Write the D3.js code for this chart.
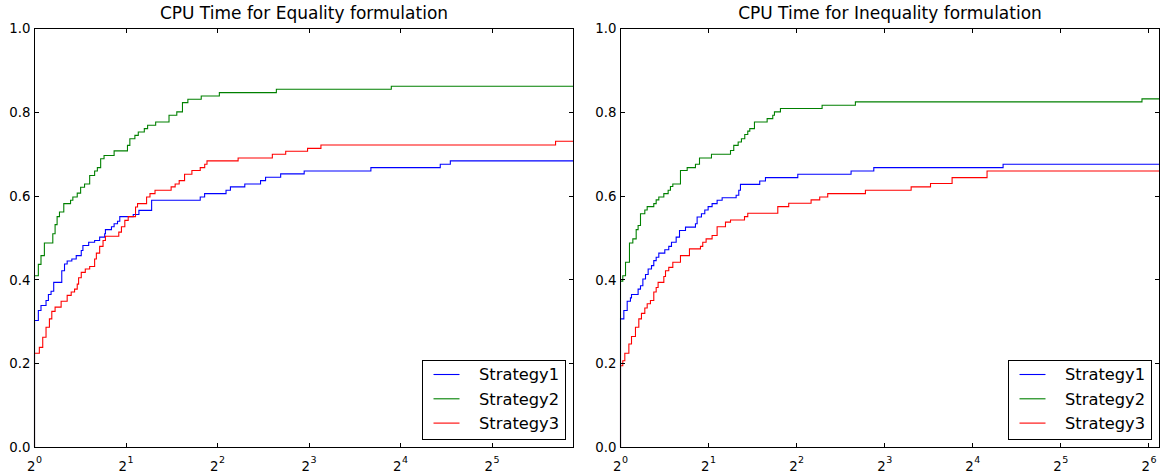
<!DOCTYPE html>
<html><head><meta charset="utf-8">
<script src="https://cdn.jsdelivr.net/npm/d3@7"></script>
<style>
body{margin:0;background:#fff}
svg{display:block}
text{font-family:"DejaVu Sans","Bitstream Vera Sans",sans-serif;fill:#000}
</style>
</head><body>
<svg id="chart" width="1161" height="473"></svg>
<script>
// ---- data (x = log2 of performance ratio tau, y = fraction of problems) ----
const titles = ["CPU Time for Equality formulation", "CPU Time for Inequality formulation"];
const seriesNames = ["Strategy1", "Strategy2", "Strategy3"];
const seriesColors = ["#0000ff", "#008000", "#ff0000"];
const yTickValues = [0, 0.2, 0.4, 0.6, 0.8, 1.0];
const xTickExpEq = [0, 1, 2, 3, 4, 5];
const xTickExpIneq = [0, 1, 2, 3, 4, 5, 6];
const xMaxEq = 5.89;
const xMaxIneq = 6.12;

const eqS1 = [[0,0],[0,0.303],[0.042,0.327],[0.071,0.339],[0.126,0.351],[0.152,0.365],[0.181,0.373],[0.21,0.394],[0.298,0.422],[0.328,0.438],[0.357,0.445],[0.408,0.450],[0.456,0.458],[0.511,0.470],[0.529,0.482],[0.592,0.490],[0.657,0.494],[0.712,0.502],[0.767,0.510],[0.775,0.520],[0.841,0.527],[0.87,0.534],[0.907,0.540],[0.932,0.551],[1.079,0.556],[1.141,0.566],[1.28,0.590],[1.811,0.598],[1.859,0.606],[2.093,0.614],[2.141,0.622],[2.298,0.629],[2.47,0.637],[2.525,0.645],[2.69,0.653],[2.947,0.660],[3.676,0.668],[4.434,0.676],[4.544,0.684],[5.89,0.684]];
const eqS2 = [[0,0],[0,0.41],[0.042,0.437],[0.071,0.458],[0.108,0.488],[0.2,0.51],[0.225,0.532],[0.247,0.551],[0.273,0.562],[0.32,0.582],[0.394,0.59],[0.419,0.598],[0.467,0.607],[0.504,0.621],[0.547,0.629],[0.603,0.649],[0.657,0.66],[0.687,0.668],[0.723,0.689],[0.76,0.697],[0.87,0.708],[1.016,0.721],[1.042,0.737],[1.097,0.745],[1.134,0.753],[1.2,0.761],[1.236,0.769],[1.324,0.777],[1.47,0.793],[1.555,0.801],[1.617,0.823],[1.676,0.831],[1.822,0.839],[2.02,0.847],[2.643,0.855],[3.899,0.862],[5.89,0.862]];
const eqS3 = [[0,0],[0,0.225],[0.053,0.239],[0.09,0.263],[0.126,0.287],[0.163,0.307],[0.189,0.325],[0.225,0.335],[0.291,0.349],[0.357,0.363],[0.401,0.371],[0.438,0.378],[0.467,0.39],[0.482,0.405],[0.511,0.418],[0.555,0.426],[0.603,0.432],[0.657,0.45],[0.676,0.464],[0.712,0.48],[0.749,0.494],[0.775,0.504],[0.921,0.514],[0.95,0.527],[0.987,0.542],[1.024,0.551],[1.104,0.574],[1.126,0.582],[1.225,0.598],[1.262,0.606],[1.317,0.614],[1.493,0.622],[1.537,0.629],[1.581,0.637],[1.64,0.652],[1.72,0.661],[1.811,0.668],[1.86,0.676],[1.885,0.684],[2.225,0.691],[2.599,0.7],[2.745,0.707],[2.984,0.714],[3.13,0.722],[5.694,0.731],[5.89,0.731]];

const ineqS1 = [[0,0],[0,0.307],[0.038,0.327],[0.076,0.349],[0.113,0.357],[0.125,0.365],[0.2,0.378],[0.227,0.386],[0.254,0.402],[0.284,0.413],[0.314,0.426],[0.352,0.434],[0.378,0.446],[0.405,0.454],[0.435,0.464],[0.503,0.472],[0.548,0.48],[0.579,0.49],[0.632,0.502],[0.67,0.518],[0.738,0.526],[0.851,0.534],[0.87,0.55],[0.919,0.558],[0.957,0.567],[0.995,0.575],[1.04,0.582],[1.097,0.59],[1.154,0.596],[1.313,0.602],[1.343,0.614],[1.362,0.628],[1.581,0.636],[1.646,0.644],[2.013,0.652],[2.618,0.66],[2.876,0.668],[4.344,0.676],[6.12,0.676]];
const ineqS2 = [[0,0],[0,0.397],[0.026,0.41],[0.057,0.442],[0.102,0.488],[0.14,0.498],[0.178,0.52],[0.2,0.53],[0.227,0.558],[0.276,0.567],[0.303,0.575],[0.378,0.582],[0.405,0.591],[0.435,0.598],[0.492,0.606],[0.541,0.614],[0.567,0.623],[0.594,0.629],[0.681,0.661],[0.757,0.668],[0.851,0.676],[0.897,0.691],[1.033,0.7],[1.249,0.709],[1.286,0.721],[1.336,0.729],[1.373,0.737],[1.411,0.747],[1.445,0.755],[1.468,0.761],[1.521,0.777],[1.665,0.785],[1.729,0.793],[1.748,0.801],[1.816,0.809],[2.289,0.817],[2.667,0.825],[5.921,0.832],[6.12,0.832]];
const ineqS3 = [[0,0],[0,0.195],[0.026,0.207],[0.049,0.225],[0.095,0.247],[0.125,0.265],[0.17,0.287],[0.208,0.307],[0.238,0.32],[0.276,0.333],[0.303,0.343],[0.34,0.351],[0.378,0.371],[0.405,0.382],[0.427,0.394],[0.492,0.408],[0.511,0.422],[0.548,0.43],[0.594,0.442],[0.681,0.458],[0.783,0.474],[0.908,0.48],[0.934,0.49],[0.972,0.498],[1.04,0.506],[1.097,0.527],[1.192,0.538],[1.249,0.543],[1.408,0.551],[1.445,0.559],[1.786,0.575],[1.91,0.583],[2.164,0.591],[2.262,0.598],[2.353,0.606],[2.781,0.614],[3.3,0.622],[3.52,0.63],[3.765,0.644],[4.162,0.66],[6.12,0.66]];

// ---- layout ----
const svg = d3.select("#chart");
const panels = [
  {title: titles[0], left: 34, right: 573, xMax: xMaxEq, xTicks: xTickExpEq, series: [eqS1, eqS2, eqS3]},
  {title: titles[1], left: 620, right: 1159, xMax: xMaxIneq, xTicks: xTickExpIneq, series: [ineqS1, ineqS2, ineqS3]}
];
const plotTop = 28, plotBottom = 447;
const tickLen = 4.5;

panels.forEach((p, pi) => {
  const w = p.right - p.left, h = plotBottom - plotTop;
  const g = svg.append("g").attr("transform", `translate(${p.left + 0.5},${plotTop + 0.5})`);
  const x = d3.scaleLinear().domain([0, p.xMax]).range([0, w]);
  const y = d3.scaleLinear().domain([0, 1]).range([h, 0]);

  const clipId = "clip" + pi;
  g.append("clipPath").attr("id", clipId).append("rect")
    .attr("x", -1).attr("y", -1).attr("width", w + 2).attr("height", h + 2);

  const line = d3.line().x(d => x(d[0])).y(d => y(d[1])).curve(d3.curveStepAfter);
  p.series.forEach((s, i) => {
    g.append("path").datum(s)
      .attr("clip-path", `url(#${clipId})`)
      .attr("fill", "none")
      .attr("stroke", seriesColors[i])
      .attr("stroke-width", 1.1)
      .attr("d", line);
  });

  // frame
  g.append("rect").attr("width", w).attr("height", h)
    .attr("fill", "none").attr("stroke", "#000").attr("stroke-width", 1);

  // inward ticks
  const tk = g.append("g").attr("stroke", "#000").attr("stroke-width", 1);
  p.xTicks.forEach(t => {
    const xx = Math.round(x(t));
    tk.append("line").attr("x1", xx).attr("x2", xx).attr("y1", h).attr("y2", h - tickLen);
    tk.append("line").attr("x1", xx).attr("x2", xx).attr("y1", 0).attr("y2", tickLen);
  });
  yTickValues.forEach(t => {
    const yy = Math.round(y(t));
    tk.append("line").attr("x1", 0).attr("x2", tickLen).attr("y1", yy).attr("y2", yy);
    tk.append("line").attr("x1", w).attr("x2", w - tickLen).attr("y1", yy).attr("y2", yy);
  });

  // y labels
  g.selectAll(".ylab").data(yTickValues).enter().append("text")
    .attr("x", -4).attr("y", d => y(d)).attr("dy", "0.36em")
    .attr("text-anchor", "end").attr("font-size", "13.3px")
    .text(d => d3.format(".1f")(d));

  // x labels with superscripts
  const xl = g.selectAll(".xlab").data(p.xTicks).enter().append("text")
    .attr("x", d => x(d)).attr("y", h + 23.5)
    .attr("text-anchor", "middle").attr("font-size", "13.3px");
  xl.append("tspan").text("2");
  xl.append("tspan").attr("font-size", "9.5px").attr("dy", "-8").attr("dx", "0.5").text(d => d);

  // title
  g.append("text").attr("x", w / 2).attr("y", -9.5)
    .attr("text-anchor", "middle").attr("font-size", "17px").text(p.title);

  // legend
  const lw = 143, lh = 79;
  const lx = w - 8 - lw, ly = h - 8 - lh;
  const lg = g.append("g").attr("transform", `translate(${lx},${ly})`);
  lg.append("rect").attr("width", lw).attr("height", lh)
    .attr("fill", "#fff").attr("stroke", "#000").attr("stroke-width", 1);
  seriesNames.forEach((n, i) => {
    const yy = 14 + i * 24.3;
    lg.append("line").attr("x1", 11).attr("x2", 37).attr("y1", yy).attr("y2", yy)
      .attr("stroke", seriesColors[i]).attr("stroke-width", 1.1);
    lg.append("text").attr("x", 56.5).attr("y", yy).attr("dy", "0.36em")
      .attr("font-size", "16.3px").text(n);
  });
});
</script>
</body></html>
